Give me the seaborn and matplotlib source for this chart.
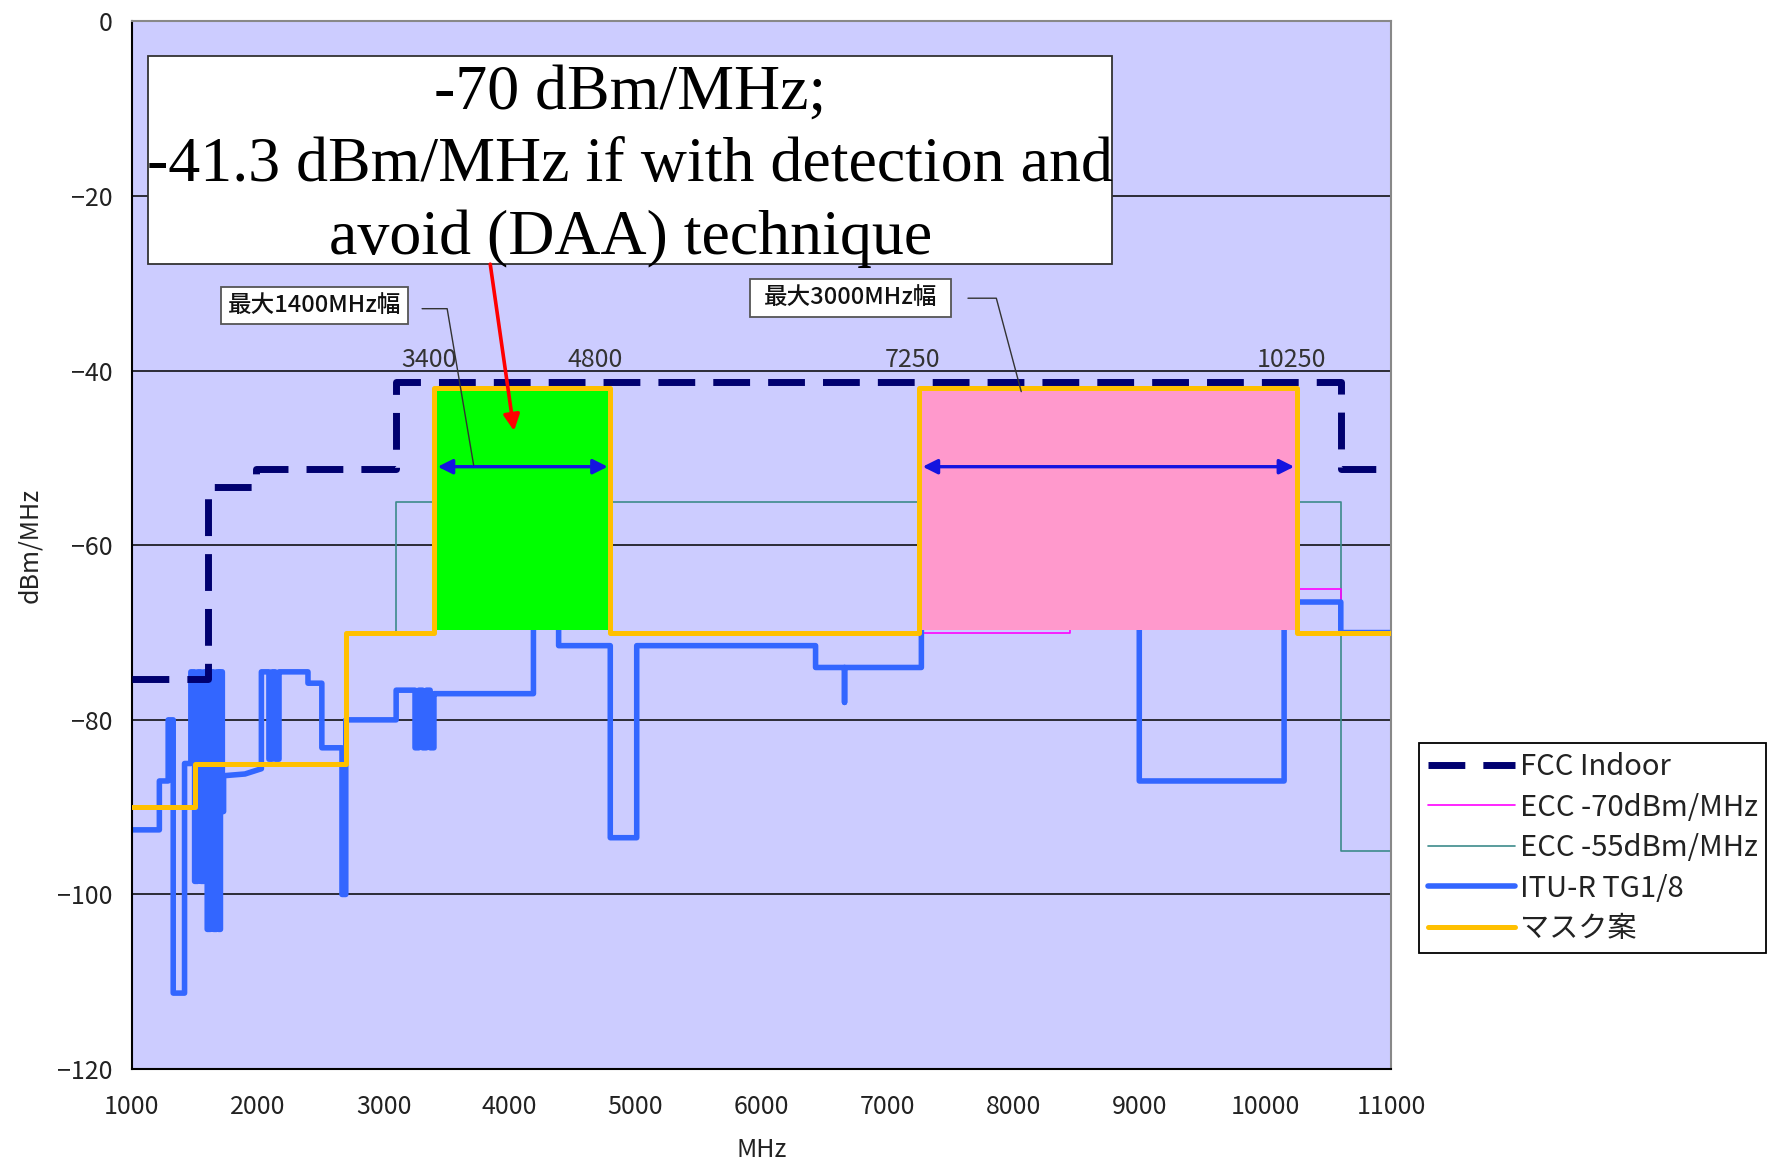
import matplotlib
matplotlib.use("Agg")
import matplotlib.pyplot as plt
import matplotlib.patches as mpatches
import seaborn as sns

# FCC indoor mask
fcc_x = [1000, 1610, 1610, 1990, 1990, 3100, 3100, 10600, 10600, 11000]
fcc_y = [-75.3, -75.3, -53.3, -53.3, -51.3, -51.3, -41.3, -41.3, -51.3, -51.3]

# ECC -70 dBm/MHz (mostly hidden)
ecc70_x = [4800, 8450, 8450, 10600, 10600, 11000]
ecc70_y = [-70, -70, -65, -65, -70, -70]

# ECC -55 dBm/MHz
ecc55_x = [1000, 1500, 1500, 2700, 2700, 3100, 3100, 10600, 10600, 11000]
ecc55_y = [-90, -90, -85, -85, -70, -70, -55, -55, -95, -95]

# ITU-R TG1/8
itu_x = [1000, 1220, 1220, 1290, 1290, 1330, 1330, 1420, 1420, 1470, 1470,
         1500, 1500, 1525, 1525, 1550, 1550, 1575, 1575, 1600, 1600, 1625, 1625,
         1650, 1650, 1675, 1675, 1690, 1690, 1705, 1705, 1720, 1720, 1730, 1730,
         1900, 2030, 2030, 2090, 2090, 2115, 2115, 2140, 2140, 2170, 2170, 2195,
         2195, 2400, 2400, 2510, 2510, 2670, 2670, 2700, 2700, 3100, 3100, 3250,
         3250, 3280, 3280, 3310, 3310, 3340, 3340, 3370, 3370, 3400, 3400, 3425,
         4190, 4190, 4390, 4390, 4800, 4800, 5010, 5010, 6430, 6430, 6660, 6660,
         6660, 7270, 7270, 9000, 9000, 10150, 10150, 10600, 10600, 11000]
itu_y = [-92.6, -92.6, -87, -87, -80, -80, -111.3, -111.3, -85, -85, -74.5,
         -74.5, -98.5, -98.5, -74.5, -74.5, -98.5, -98.5, -74.5, -74.5, -104, -104, -74.5,
         -74.5, -104, -104, -74.5, -74.5, -104, -104, -74.5, -74.5, -90.5, -90.5, -86.4,
         -86.2, -85.6, -74.5, -74.5, -84.5, -84.5, -74.5, -74.5, -84.5, -84.5, -74.5, -74.5,
         -74.5, -74.5, -75.8, -75.8, -83.2, -83.2, -100, -100, -80, -80, -76.6, -76.6,
         -83.2, -83.2, -76.6, -76.6, -83.2, -83.2, -76.6, -76.6, -83.2, -83.2, -77, -77,
         -77, -65, -65, -71.5, -71.5, -93.5, -93.5, -71.5, -71.5, -74, -74, -78,
         -74, -74, -68, -68, -87, -87, -66.5, -66.5, -70, -70]

# proposed mask
mask_x = [1000, 1500, 1500, 2700, 2700, 3400, 3400, 4800, 4800, 7250, 7250, 10250, 10250, 11000]
mask_y = [-90, -90, -85, -85, -70, -70, -42, -42, -70, -70, -42, -42, -70, -70]

# highlighted bands
band_green = [3400, 4800]
band_pink = [7250, 10250]
band_top = -42
band_bottom = -69.7

freq_labels = [3400, 4800, 7250, 10250]
freq_label_x = [3360, 4680, 7200, 10210]

sns.set_style("white")
plt.rcParams['font.family'] = ['Noto Sans CJK JP', 'DejaVu Sans']
plt.rcParams['axes.unicode_minus'] = True

fig = plt.figure(figsize=(17.79, 11.61), dpi=100)
ax = fig.add_axes([0.074, 0.0792, 0.708, 0.9023])
ax.set_facecolor('#CCCCFF')

for g in [-20, -40, -60, -80, -100]:
    ax.axhline(g, color='black', lw=1.1, zorder=1)

handles = {}
sns.lineplot(x=ecc55_x, y=ecc55_y, sort=False, estimator=None, color='#3d8b8b', lw=1.2, ax=ax, zorder=2)
handles['ECC -55dBm/MHz'] = ax.lines[-1]
sns.lineplot(x=ecc70_x, y=ecc70_y, sort=False, estimator=None, color='#ff00ff', lw=1.2, ax=ax, zorder=2)
handles['ECC -70dBm/MHz'] = ax.lines[-1]
sns.lineplot(x=itu_x, y=itu_y, sort=False, estimator=None, color='#3366ff', lw=4, ax=ax, zorder=2.5)
handles['ITU-R TG1/8'] = ax.lines[-1]

ax.fill_between(band_green, band_top, band_bottom, color='#00ff00', lw=0, zorder=3)
ax.fill_between(band_pink, band_top, band_bottom, color='#ff99cc', lw=0, zorder=3)

sns.lineplot(x=mask_x, y=mask_y, sort=False, estimator=None, color='#ffc000', lw=3.6, ax=ax, zorder=4)
handles['マスク案'] = ax.lines[-1]
sns.lineplot(x=fcc_x, y=fcc_y, sort=False, estimator=None, color='#000070', lw=5, ax=ax, zorder=5)
fcc_line = ax.lines[-1]
fcc_line.set_dashes((5.3, 2.6))
handles['FCC Indoor'] = fcc_line

# double arrows for band widths
for lo, hi in [band_green, band_pink]:
    ax.annotate('', xy=(hi - 20, -51), xytext=(lo + 30, -51),
                arrowprops=dict(arrowstyle='<|-|>', color='#1414e0', lw=2.4,
                                mutation_scale=22, shrinkA=0, shrinkB=0), zorder=6)

for f, fx in zip(freq_labels, freq_label_x):
    ax.text(fx, -38.8, str(f), ha='center', va='center', fontsize=18, color='#333333', zorder=6)

# callout boxes
ax.add_patch(mpatches.Rectangle((1712, -34.6), 1486, 4.2, facecolor='white',
                                edgecolor='#555555', lw=1.3, zorder=7))
ax.text(2455, -32.5, '最大1400MHz幅', ha='center', va='center', fontsize=17,
        fontweight='medium', color='#111111', zorder=8)
ax.plot([3306, 3505, 3715], [-32.9, -32.9, -50.8], color='#333333', lw=1, zorder=6)

ax.add_patch(mpatches.Rectangle((5910, -33.8), 1595, 4.3, facecolor='white',
                                edgecolor='#555555', lw=1.3, zorder=7))
ax.text(6710, -31.6, '最大3000MHz幅', ha='center', va='center', fontsize=17,
        fontweight='medium', color='#111111', zorder=8)
ax.plot([7640, 7865, 8063], [-31.7, -31.7, -42.4], color='#333333', lw=1, zorder=6)

# DAA note
ax.add_patch(mpatches.Rectangle((1126, -27.8), 7658, 23.9, facecolor='white',
                                edgecolor='#333333', lw=1.3, zorder=7))
ax.text(4960, -16.6, '-70 dBm/MHz;\n-41.3 dBm/MHz if with detection and\navoid (DAA) technique',
        ha='center', va='center', fontsize=46, family='Liberation Serif',
        linespacing=1.32, color='black', zorder=8)
ax.annotate('', xy=(4036, -46.9), xytext=(3847, -27.8),
            arrowprops=dict(arrowstyle='-|>', color='#ff0000', lw=2.6,
                            mutation_scale=24, shrinkA=0, shrinkB=0), zorder=8)

ax.set_xlim(1000, 11000)
ax.set_ylim(-120, 0)
ax.set_xticks(range(1000, 11001, 1000))
ax.set_yticks(range(-120, 1, 20))
ax.tick_params(direction='in', length=7, width=1.2, labelsize=18, colors='#222222')
ax.tick_params(axis='x', pad=18)
ax.tick_params(axis='y', pad=14)
ax.set_xlabel('MHz', fontsize=18, color='#222222', labelpad=12)
ax.set_ylabel('dBm/MHz', fontsize=18, color='#222222', labelpad=10)

for s in ['left', 'bottom']:
    ax.spines[s].set_color('black')
    ax.spines[s].set_linewidth(1.5)
for s in ['top', 'right']:
    ax.spines[s].set_color('#888888')
    ax.spines[s].set_linewidth(1.5)

order = ['FCC Indoor', 'ECC -70dBm/MHz', 'ECC -55dBm/MHz', 'ITU-R TG1/8', 'マスク案']
leg = ax.legend([handles[k] for k in order], order, loc='upper left',
                bbox_to_anchor=(1.022, 0.311), fontsize=21, frameon=True,
                fancybox=False, framealpha=1, edgecolor='black', handlelength=3.0,
                handletextpad=0.15, labelspacing=0.36, borderpad=0.3, borderaxespad=0)
leg.get_frame().set_linewidth(1.3)
for t in leg.get_texts():
    t.set_color('#222222')

fig.savefig('out.png', dpi=100, facecolor='white')
